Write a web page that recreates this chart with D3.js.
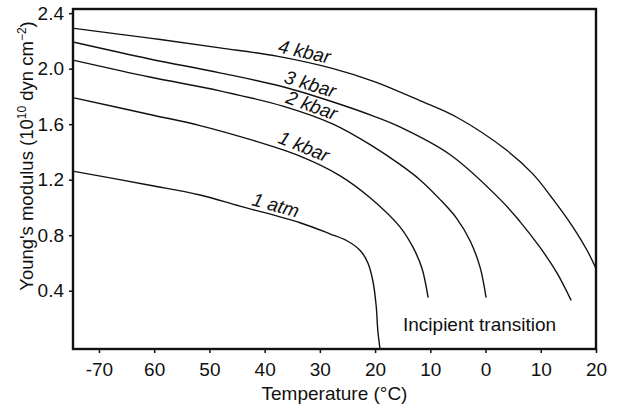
<!DOCTYPE html>
<html>
<head>
<meta charset="utf-8">
<script src="https://cdn.jsdelivr.net/npm/d3@7"></script>
<style>
  body { margin: 0; background: #fff; }
  svg text { font-family: "Liberation Sans", Arial, sans-serif; fill: #111; }
</style>
</head>
<body>
<div id="chart"></div>
<script>
// temperatures in degC, modulus in 10^10 dyn cm^-2
let temp4kbar = [-74.5, -60.8, -48.1, -37.8, -27.6, -20.4, -11.9, -5.2, 3.9, 8.6, 12.2, 15.8, 18.4, 20];
let mod4kbar = [2.29, 2.22, 2.15, 2.09, 2.00, 1.91, 1.77, 1.65, 1.41, 1.24, 1.06, 0.86, 0.69, 0.56];

let temp3kbar = [-74.5, -60.8, -48.1, -36.7, -27.6, -20.4, -15.5, -6.4, 2.6, 6.2, 9.9, 12.9, 15.5];
let mod3kbar = [2.19, 2.07, 1.97, 1.87, 1.76, 1.66, 1.58, 1.38, 1.06, 0.90, 0.71, 0.53, 0.33];

let temp2kbar = [-74.5, -60.8, -48.1, -36.7, -27.6, -20.4, -15.5, -11.9, -8.3, -5.2, -2.8, -1.0, 0.1];
let mod2kbar = [2.06, 1.94, 1.84, 1.73, 1.60, 1.44, 1.31, 1.20, 1.06, 0.92, 0.76, 0.57, 0.35];

let temp1kbar = [-74.5, -60.8, -51.7, -42.7, -33.6, -26.4, -20.9, -15.5, -13.1, -11.5, -10.4];
let mod1kbar = [1.79, 1.67, 1.59, 1.49, 1.37, 1.23, 1.07, 0.86, 0.71, 0.56, 0.35];

let temp1atm = [-74.5, -60.8, -51.7, -44.5, -33.6, -28.2, -25.1, -22.7, -21.3, -20.4, -19.8, -19.5, -19.1];
let mod1atm = [1.26, 1.16, 1.09, 1.01, 0.89, 0.81, 0.76, 0.69, 0.60, 0.47, 0.29, 0.11, -0.02];

let curveNames = ["4 kbar", "3 kbar", "2 kbar", "1 kbar", "1 atm"];
let xTicks = [-70, -60, -50, -40, -30, -20, -10, 0, 10, 20];
let yTicks = [0.4, 0.8, 1.2, 1.6, 2.0, 2.4];

let curves = [
    {name: curveNames[0], t: temp4kbar, m: mod4kbar, labelAt: -33.2},
    {name: curveNames[1], t: temp3kbar, m: mod3kbar, labelAt: -32.3},
    {name: curveNames[2], t: temp2kbar, m: mod2kbar, labelAt: -32.1},
    {name: curveNames[3], t: temp1kbar, m: mod1kbar, labelAt: -33.6},
    {name: curveNames[4], t: temp1atm, m: mod1atm, labelAt: -38.5}
];

let width = 618, height = 409;
let plotLeft = 73, plotRight = 596, plotTop = 9, plotBottom = 349;

let svg = d3.select("#chart").append("svg")
    .attr("width", width)
    .attr("height", height);

let x = d3.scaleLinear().domain([-74.7, 20]).range([plotLeft, plotRight]);
let y = d3.scaleLinear().domain([-0.02, 2.43]).range([plotBottom, plotTop]);

// curves
let line = d3.line()
    .x(d => x(d[0]))
    .y(d => y(d[1]))
    .curve(d3.curveCatmullRom.alpha(0.5));

function interp(c, t) {
    for (let i = 1; i < c.t.length; i++) {
        if (t <= c.t[i]) {
            let f = (t - c.t[i-1]) / (c.t[i] - c.t[i-1]);
            return c.m[i-1] + f * (c.m[i] - c.m[i-1]);
        }
    }
    return c.m[c.m.length-1];
}

curves.forEach(c => {
    svg.append("path")
        .datum(c.t.map((t, i) => [t, c.m[i]]))
        .attr("d", line)
        .attr("fill", "none")
        .attr("stroke", "#111")
        .attr("stroke-width", 1.4);

    // label sits on the curve, turned along its slope
    let px = x(c.labelAt), py = y(interp(c, c.labelAt));
    let x0 = x(c.labelAt - 3), x1 = x(c.labelAt + 3);
    let y0 = y(interp(c, c.labelAt - 3)), y1 = y(interp(c, c.labelAt + 3));
    let angle = Math.atan2(y1 - y0, x1 - x0) * 180 / Math.PI;
    svg.append("text")
        .attr("transform", "translate(" + px + "," + py + ") rotate(" + angle + ")")
        .attr("text-anchor", "middle")
        .attr("dy", -4)
        .attr("font-size", "19px")
        .attr("font-style", "italic")
        .text(c.name);
});

// axes
let xAxis = svg.append("g")
    .attr("transform", "translate(0," + plotBottom + ")")
    .call(d3.axisBottom(x).tickValues(xTicks).tickSize(4).tickPadding(10)
        .tickFormat(d => d === -70 ? "-70" : Math.abs(d)));
let yAxis = svg.append("g")
    .attr("transform", "translate(" + plotLeft + ",0)")
    .call(d3.axisLeft(y).tickValues(yTicks).tickSize(4).tickPadding(5)
        .tickFormat(d3.format(".1f")));

[xAxis, yAxis].forEach(a => {
    a.select(".domain").remove();
    a.selectAll("line").attr("stroke", "#111").attr("stroke-width", 1.5);
    a.selectAll("text").attr("font-size", "19px")
        .attr("font-family", "Liberation Sans, Arial, sans-serif").attr("fill", "#111");
});

// frame
svg.append("rect")
    .attr("x", plotLeft)
    .attr("y", plotTop)
    .attr("width", plotRight - plotLeft)
    .attr("height", plotBottom - plotTop)
    .attr("fill", "none")
    .attr("stroke", "#111")
    .attr("stroke-width", 2.4);

svg.append("text")
    .attr("x", (plotLeft + plotRight) / 2)
    .attr("y", 400)
    .attr("text-anchor", "middle")
    .attr("font-size", "19px")
    .text("Temperature (°C)");

let yl = svg.append("text")
    .attr("transform", "translate(33,156) rotate(-90)")
    .attr("text-anchor", "middle")
    .attr("font-size", "18.5px");
yl.append("tspan").text("Young's modulus (10");
yl.append("tspan").attr("font-size", "12px").attr("dy", -7).text("10");
yl.append("tspan").attr("dy", 7).text(" dyn cm");
yl.append("tspan").attr("font-size", "12px").attr("dy", -7).text("−2");
yl.append("tspan").attr("dy", 7).text(")");

svg.append("text")
    .attr("x", 403)
    .attr("y", 331)
    .attr("font-size", "19px")
    .text("Incipient transition");
</script>
</body>
</html>
